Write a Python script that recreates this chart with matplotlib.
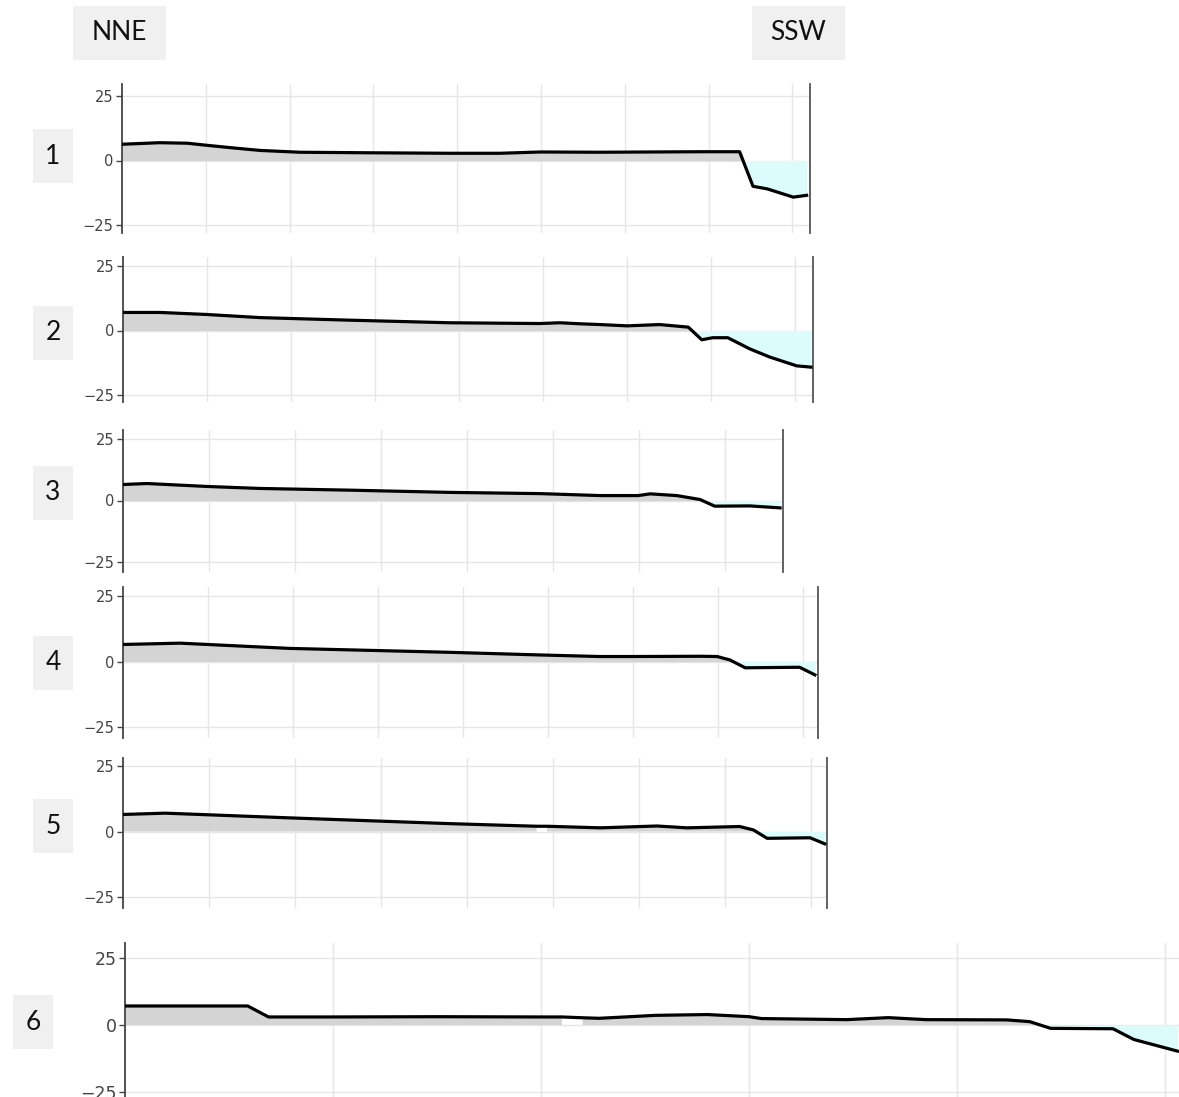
import numpy as np
import matplotlib
matplotlib.use("Agg")
import matplotlib.pyplot as plt
from matplotlib.patches import Rectangle

W, H = 1179, 1097

# profile data: x in grid units (one unit = one vertical grid line), y = height
p1_x = [0, 0.45, 0.78, 1.01, 1.35, 1.65, 2.12, 2.92, 3.91, 4.51, 4.99, 5.70, 6.90, 7.37, 7.53, 7.70, 8.01, 8.17]
p1_y = [6.3, 6.9, 6.7, 5.9, 4.8, 3.9, 3.2, 3.0, 2.8, 2.8, 3.3, 3.2, 3.4, 3.4, -10.0, -11.0, -14.2, -13.5]

p2_x = [0, 0.44, 1.0, 1.63, 2.7, 3.89, 4.96, 5.2, 5.44, 5.68, 6.0, 6.39, 6.73, 6.89, 7.02, 7.2, 7.46, 7.7, 8.02, 8.19]
p2_y = [7.0, 7.0, 6.2, 5.0, 4.0, 3.0, 2.7, 3.0, 2.6, 2.3, 1.8, 2.3, 1.3, -3.6, -2.8, -2.8, -7.1, -10.3, -13.7, -14.2]

p3_x = [0, 0.28, 0.98, 1.59, 2.64, 3.8, 4.85, 5.55, 5.99, 6.13, 6.44, 6.71, 6.88, 7.29, 7.64]
p3_y = [6.5, 6.9, 5.7, 4.9, 4.2, 3.3, 2.8, 2.0, 2.0, 2.7, 2.0, 0.4, -2.3, -2.2, -3.0]

p4_x = [0, 0.67, 1.96, 3.85, 4.9, 5.61, 6.0, 6.79, 6.99, 7.14, 7.32, 7.96, 8.14]
p4_y = [6.5, 7.0, 5.0, 3.5, 2.5, 1.9, 1.9, 2.0, 1.9, 0.6, -2.4, -2.2, -5.1]

p5_x = [0, 0.49, 1.94, 3.8, 4.81, 4.87, 4.93, 5.55, 6.21, 6.56, 7.17, 7.33, 7.49, 7.99, 8.16]
p5_y = [6.5, 7.0, 5.2, 3.0, 2.0, np.nan, 2.0, 1.4, 2.1, 1.4, 1.9, 0.6, -2.6, -2.4, -4.7]

p6_x = [0, 0.59, 0.69, 1.0, 1.5, 2.0, 2.10, 2.15, 2.20, 2.28, 2.55, 2.80, 3.00, 3.06,
        3.47, 3.67, 3.85, 4.24, 4.35, 4.45, 4.75, 4.85, 5.06]
p6_y = [7.1, 7.1, 3.0, 3.0, 3.1, 3.0, 3.0, np.nan, 2.7, 2.5, 3.6, 3.9, 3.1, 2.4,
        2.0, 2.75, 2.0, 1.9, 1.25, -1.25, -1.4, -5.4, -9.75]

row_labels = ["1", "2", "3", "4", "5", "6"]
yticks = [-25, 0, 25]

# layout in pixels: left, right, top, bottom, y of +25, y of -25, px per grid unit
layout = [
    (122, 810, 84, 233, 96, 225, 83.8),
    (123, 813, 257, 402, 266, 395, 84),
    (123, 783, 430, 572, 439, 562, 86),
    (123, 818, 587, 738, 596, 727, 85),
    (123, 827, 758, 908, 766, 897, 86),
    (125, 1179, 943, 1110, 958, 1092, 208),
]
label_boxes = [(33, 129, 40, 54), (33, 306, 40, 54), (33, 466, 40, 54),
               (33, 636, 40, 54), (33, 799, 40, 54), (13, 995, 40, 54)]

series = [(p1_x, p1_y), (p2_x, p2_y), (p3_x, p3_y), (p4_x, p4_y), (p5_x, p5_y), (p6_x, p6_y)]

fig = plt.figure(figsize=(W / 100, H / 100), dpi=100)


def box(x, y, w, h, txt, size=19):
    fig.patches.append(Rectangle((x / W, 1 - (y + h) / H), w / W, h / H,
                                 transform=fig.transFigure, facecolor="#f0f0f0",
                                 edgecolor="none", zorder=0))
    fig.text((x + w / 2) / W, 1 - (y + h / 2) / H, txt, ha="center", va="center",
             fontsize=size, family="Lato", color="#111111")


box(73, 6, 93, 54, "NNE")
box(752, 6, 93, 54, "SSW")

for i, ((xs, ys), (l, r, t, b, y25, ym25, sp)) in enumerate(zip(series, layout)):
    x = np.array(xs, dtype=float)
    y = np.array(ys, dtype=float)
    ax = fig.add_axes([l / W, 1 - b / H, (r - l) / W, (b - t) / H])
    s = (ym25 - y25) / 50
    ax.set_ylim(-25 - (b - ym25) / s, 25 + (y25 - t) / s)
    xmax = (r - l) / sp
    ax.set_xlim(0, xmax)

    ax.fill_between(x, 0, y, where=y >= 0, interpolate=True, color="#d4d4d4", lw=0, zorder=1)
    ax.fill_between(x, 0, y, where=y <= 0, interpolate=True, color="#dcfcfc", lw=0, zorder=1)
    ok = ~np.isnan(y)
    ax.plot(x[ok], y[ok], color="black", lw=2.3, solid_joinstyle="round", zorder=3)

    ax.set_xticks(np.arange(1, int(xmax) + 1))
    ax.set_yticks(yticks)
    ax.grid(True, color="#e6e6e6", lw=1, zorder=0)
    ax.set_axisbelow(True)
    ax.tick_params(axis="x", length=0, labelbottom=False)
    big = i == 5
    ax.tick_params(axis="y", length=4, width=1, color="#444444", labelcolor="#444444",
                   labelsize=12.5 if big else 10.5, pad=2)
    for sp_name in ["top", "bottom"]:
        ax.spines[sp_name].set_visible(False)
    ax.spines["left"].set_color("#444444")
    ax.spines["left"].set_linewidth(1.3)
    if big:
        ax.spines["right"].set_visible(False)
    else:
        ax.spines["right"].set_color("#555555")
        ax.spines["right"].set_linewidth(1.3)

    bx, by, bw, bh = label_boxes[i]
    box(bx, by, bw, bh, row_labels[i])

fig.savefig("out.png", dpi=100)
